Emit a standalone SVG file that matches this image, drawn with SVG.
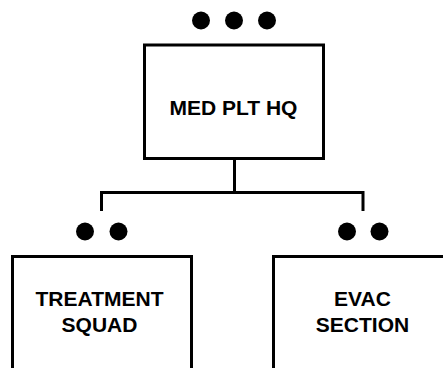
<svg xmlns="http://www.w3.org/2000/svg" width="443" height="368" viewBox="0 0 443 368">
<style>
.box{fill:#fff;stroke:#000;stroke-width:3}
.line{fill:none;stroke:#000;stroke-width:3}
.dot{fill:#000}
.t{font-family:"Liberation Sans",Arial,sans-serif;font-size:21px;font-weight:bold;fill:#000;text-anchor:middle}
</style>
<rect width="443" height="368" fill="#fff"/>
<g id="connectors">
<path class="line" d="M234.5 158.5V192.5M101.5 211V192.5H363V211"/>
</g>
<g id="hq">
<circle class="dot" cx="201" cy="20.5" r="9"/>
<circle class="dot" cx="234" cy="20.5" r="9"/>
<circle class="dot" cx="267" cy="20.5" r="9"/>
<rect class="box" x="144.5" y="45" width="179" height="113.5"/>
<text class="t" x="233.5" y="115">MED PLT HQ</text>
</g>
<g id="treatment">
<circle class="dot" cx="85" cy="231.5" r="9"/>
<circle class="dot" cx="118.5" cy="231.5" r="9"/>
<rect class="box" x="12.5" y="256.5" width="179" height="130"/>
<text class="t" x="99.5" y="306">TREATMENT</text>
<text class="t" x="99.5" y="332">SQUAD</text>
</g>
<g id="evac">
<circle class="dot" cx="347" cy="231.5" r="9"/>
<circle class="dot" cx="379.5" cy="231.5" r="9"/>
<rect class="box" x="273.5" y="256.5" width="179" height="130"/>
<text class="t" x="362.5" y="306">EVAC</text>
<text class="t" x="362.5" y="332">SECTION</text>
</g>
</svg>
